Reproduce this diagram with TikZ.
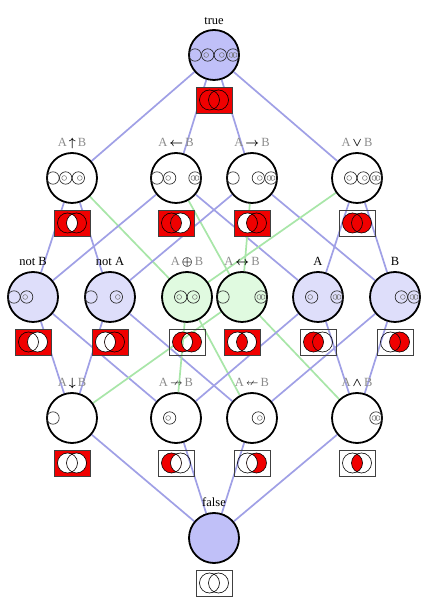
\documentclass[tikz,border=0pt]{standalone}
\usepackage{fontspec}
\setmainfont{Liberation Serif}
\usepackage{amssymb}
\usetikzlibrary{backgrounds}
\definecolor{edgeb}{RGB}{160,160,230}
\definecolor{edgeg}{RGB}{168,230,168}
\definecolor{fstrong}{RGB}{192,192,248}
\definecolor{fweak}{RGB}{222,222,250}
\definecolor{fgreen}{RGB}{224,250,224}
\definecolor{lg}{RGB}{140,140,140}
\definecolor{vred}{RGB}{240,0,0}
\newcommand\op[1]{{\color{lg}A}\,{\boldmath$#1$}\,{\color{lg}B}}
% markers: node, type (0..3)
\newcommand\mk[2]{%
  \pgfmathsetmacro\mkoff{-19+12.667*#2}%
  \begin{scope}[shift={(#1)}, xshift=\mkoff pt]
    \draw[ring] (0,0) circle (6.2pt);
    \ifcase#2 \or \draw[inmark] (-1.5,0) circle (2.4pt);
    \or \draw[inmark] (1.5,0) circle (2.4pt);
    \or \draw[inmark] (-1.6,0) circle (2.4pt) (1.6,0) circle (2.4pt);
    \fi
  \end{scope}}
\newcommand\mks[2]{\foreach \tt in {#2} {\mk{#1}{\tt}}}
% venn: box name, source node, bg, cA, cB, cAB
\newcommand\venn[6]{%
  \node[vbox, fill=#3] (#1) at ([yshift=-45pt]#2.center) {};
  \begin{scope}[shift={(#1)}]
    \begin{scope}
      \clip (-4.5,0) circle (10pt);
      \path[fill=#4, even odd rule] (-4.5,0) circle (10pt) (4.5,0) circle (10pt);
      \path[fill=#6] (4.5,0) circle (10pt);
    \end{scope}
    \begin{scope}
      \clip (4.5,0) circle (10pt);
      \path[fill=#5, even odd rule] (-4.5,0) circle (10pt) (4.5,0) circle (10pt);
    \end{scope}
    \draw[line width=0.6pt] (-4.5,0) circle (10pt) (4.5,0) circle (10pt);
  \end{scope}}
\begin{document}
\begin{tikzpicture}[x=1pt,y=1pt,
  fn/.style={circle, draw=black, line width=1.8pt, minimum size=50pt, inner sep=0pt, fill=white},
  lab/.style={font=\fontsize{12.5}{14}\selectfont, inner sep=0pt, anchor=base},
  vbox/.style={rectangle, draw=black!75, line width=0.8pt, minimum width=36pt, minimum height=26pt, inner sep=0pt},
  eb/.style={draw=edgeb, line width=1.7pt},
  eg/.style={draw=edgeg, line width=1.7pt},
  ring/.style={draw=black!85, line width=0.65pt},
  inmark/.style={draw=black!55, line width=0.5pt}]
\useasboundingbox (0,0) rectangle (429,610);
% nodes
\node[fn, fill=fstrong] (T) at (214,555) {};
\node[fn] (NAND) at (72,432) {};
\node[fn] (AL) at (176,432) {};
\node[fn] (AR) at (252,432) {};
\node[fn] (OR) at (357,432) {};
\node[fn, fill=fweak] (nB) at (33,313) {};
\node[fn, fill=fweak] (nA) at (110,313) {};
\node[fn, fill=fgreen] (XOR) at (187,313) {};
\node[fn, fill=fgreen] (XNOR) at (242,313) {};
\node[fn, fill=fweak] (A) at (318,313) {};
\node[fn, fill=fweak] (B) at (395,313) {};
\node[fn] (NOR) at (72,192) {};
\node[fn] (NI) at (176,192) {};
\node[fn] (CNI) at (252,192) {};
\node[fn] (AND) at (357,192) {};
\node[fn, fill=fstrong] (F) at (214,72) {};
% labels
\node[lab] (lT) at ([yshift=30pt]T.center) {true};
\node[lab] (lNAND) at ([yshift=31pt]NAND.center) {\op{\uparrow}};
\node[lab] (lAL) at ([yshift=31pt]AL.center) {\op{\leftarrow}};
\node[lab] (lAR) at ([yshift=31pt]AR.center) {\op{\rightarrow}};
\node[lab] (lOR) at ([yshift=31pt]OR.center) {\op{\vee}};
\node[lab] (lnB) at ([yshift=31pt]nB.center) {not B};
\node[lab] (lnA) at ([yshift=31pt]nA.center) {not A};
\node[lab] (lXOR) at ([yshift=31pt]XOR.center) {\op{\oplus}};
\node[lab] (lXNOR) at ([yshift=31pt]XNOR.center) {\op{\leftrightarrow}};
\node[lab] (lA) at ([yshift=31pt]A.center) {A};
\node[lab] (lB) at ([yshift=31pt]B.center) {B};
\node[lab] (lNOR) at ([yshift=31pt]NOR.center) {\op{\downarrow}};
\node[lab] (lNI) at ([yshift=31pt]NI.center) {\op{\nrightarrow}};
\node[lab] (lCNI) at ([yshift=31pt]CNI.center) {\op{\nleftarrow}};
\node[lab] (lAND) at ([yshift=31pt]AND.center) {\op{\wedge}};
\node[lab] (lF) at ([yshift=31pt]F.center) {false};
% edges
\begin{scope}[on background layer]
  \fill[white] (0,0) rectangle (429,610);
  \draw[eb] (T) -- (NAND);
  \draw[eb] (T) -- (AL);
  \draw[eb] (T) -- (AR);
  \draw[eb] (T) -- (OR);
  \draw[eb] (NAND) -- (nB);
  \draw[eb] (NAND) -- (nA);
  \draw[eg] (NAND) -- (XOR);
  \draw[eb] (AL) -- (nB);
  \draw[eg] (AL) -- (XNOR);
  \draw[eb] (AL) -- (A);
  \draw[eb] (AR) -- (nA);
  \draw[eg] (AR) -- (XNOR);
  \draw[eb] (AR) -- (B);
  \draw[eg] (OR) -- (XOR);
  \draw[eb] (OR) -- (A);
  \draw[eb] (OR) -- (B);
  \draw[eb] (nB) -- (NOR);
  \draw[eb] (nB) -- (NI);
  \draw[eb] (nA) -- (NOR);
  \draw[eb] (nA) -- (CNI);
  \draw[eg] (XOR) -- (NI);
  \draw[eg] (XOR) -- (CNI);
  \draw[eg] (XNOR) -- (NOR);
  \draw[eg] (XNOR) -- (AND);
  \draw[eb] (A) -- (NI);
  \draw[eb] (A) -- (AND);
  \draw[eb] (B) -- (CNI);
  \draw[eb] (B) -- (AND);
  \draw[eb] (NOR) -- (F);
  \draw[eb] (NI) -- (F);
  \draw[eb] (CNI) -- (F);
  \draw[eb] (AND) -- (F);
\end{scope}
% markers
\mks{T}{0,1,2,3}
\mks{NAND}{0,1,2}
\mks{AL}{0,1,3}
\mks{AR}{0,2,3}
\mks{OR}{1,2,3}
\mks{nB}{0,1}
\mks{nA}{0,2}
\mks{XOR}{1,2}
\mks{XNOR}{0,3}
\mks{A}{1,3}
\mks{B}{2,3}
\mks{NOR}{0}
\mks{NI}{1}
\mks{CNI}{2}
\mks{AND}{3}
% venn boxes
\venn{vT}{T}{vred}{vred}{vred}{vred}
\venn{vNAND}{NAND}{vred}{vred}{vred}{white}
\venn{vAL}{AL}{vred}{vred}{white}{vred}
\venn{vAR}{AR}{vred}{white}{vred}{vred}
\venn{vOR}{OR}{none}{vred}{vred}{vred}
\venn{vnB}{nB}{vred}{vred}{white}{white}
\venn{vnA}{nA}{vred}{white}{vred}{white}
\venn{vXOR}{XOR}{none}{vred}{vred}{none}
\venn{vXNOR}{XNOR}{vred}{white}{white}{vred}
\venn{vA}{A}{none}{vred}{none}{vred}
\venn{vB}{B}{none}{none}{vred}{vred}
\venn{vNOR}{NOR}{vred}{white}{white}{white}
\venn{vNI}{NI}{none}{vred}{none}{none}
\venn{vCNI}{CNI}{none}{none}{vred}{none}
\venn{vAND}{AND}{none}{none}{none}{vred}
\venn{vF}{F}{none}{none}{none}{none}
\end{tikzpicture}
\end{document}
